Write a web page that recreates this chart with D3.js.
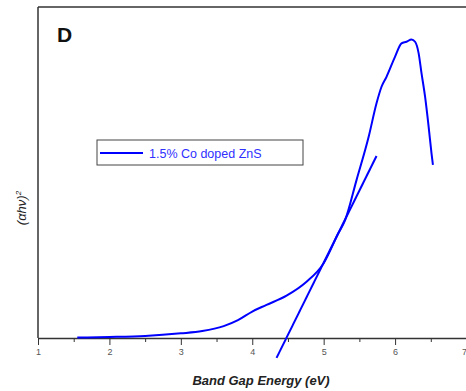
<!DOCTYPE html>
<html>
<head>
<meta charset="utf-8">
<script src="https://cdn.jsdelivr.net/npm/d3@7"></script>
<style>
  body { margin: 0; background: #fff; }
  svg { display: block; font-family: "Liberation Sans", Arial, sans-serif; }
  .axis path, .axis line { stroke: #333; }
  .axis text { fill: #555; font-size: 9px; }
</style>
</head>
<body>
<div class="demo"></div>
<script>
const w = 466, h = 391;

// measured curve: photon energy (eV) vs (alpha h nu)^2 (arb. units)
const energy = [1.55, 2.0, 2.5, 3.0, 3.3, 3.6, 3.8, 4.0, 4.2, 4.48, 4.76, 5.0, 5.2, 5.3, 5.46, 5.63, 5.74, 5.81, 5.88, 6.0, 6.09, 6.16, 6.23, 6.28, 6.33, 6.37, 6.42, 6.47, 6.51, 6.53];
const absorb = [0.15, 0.3, 0.6, 1.4, 2.1, 3.6, 5.4, 8.0, 10.0, 12.8, 17.0, 22.6, 31.4, 35.6, 47.7, 60.8, 70.9, 75.9, 78.9, 85.0, 89.0, 89.5, 90.2, 89.5, 86.0, 80.0, 72.9, 63.8, 55.8, 52.3];

// linear fit (tangent) end points
const fitE = [4.34, 5.74];
const fitY = [-6.0, 55.0];

const xTicks = [1, 2, 3, 4, 5, 6, 7];
const xMinor = [1.5, 2.5, 3.5, 4.5, 5.5, 6.5];
const seriesName = '1.5% Co doped ZnS';

let xScale = d3.scaleLinear().domain([1, 7]).range([38, 466.5]);
let yScale = d3.scaleLinear().domain([0, 100]).range([338, 7]);

let svg = d3.select('.demo').append('svg').attr('width', w).attr('height', h);

// frame: top + left
svg.append('line')
   .attr('x1', 38).attr('x2', w).attr('y1', 7).attr('y2', 7)
   .attr('stroke', '#333').attr('stroke-width', 1.5);
svg.append('line')
   .attr('x1', 38).attr('x2', 38).attr('y1', 7).attr('y2', 338)
   .attr('stroke', '#333').attr('stroke-width', 1.5);

let xAxis = d3.axisBottom(xScale).tickValues(xTicks).tickSize(7).tickPadding(4).tickSizeOuter(0)
    .tickFormat(d3.format('d'));
let xAxisMinor = d3.axisBottom(xScale).tickValues(xMinor).tickSize(4).tickFormat('').tickSizeOuter(0);

svg.append('g').attr('class', 'axis')
   .attr('transform', 'translate(0,338)')
   .call(xAxisMinor);
svg.append('g').attr('class', 'axis')
   .attr('transform', 'translate(0,338)')
   .call(xAxis)
   .call(g => g.select('.domain').attr('stroke-width', 1.5))
   .call(g => g.selectAll('.tick text').filter(d => d === 7).attr('text-anchor', 'end'));

let line = d3.line()
    .x(d => xScale(d[0]))
    .y(d => yScale(d[1]));

svg.append('path')
   .datum(energy.map((e, i) => [e, absorb[i]]))
   .attr('d', line.curve(d3.curveMonotoneX))
   .attr('fill', 'none').attr('stroke', '#0000ff').attr('stroke-width', 2);

svg.append('path')
   .datum(fitE.map((e, i) => [e, fitY[i]]))
   .attr('d', line.curve(d3.curveLinear))
   .attr('fill', 'none').attr('stroke', '#0000ff').attr('stroke-width', 2);

// legend
svg.append('rect')
   .attr('x', 97).attr('y', 140).attr('width', 206).attr('height', 25)
   .attr('fill', '#fff').attr('stroke', '#444').attr('stroke-width', 1);
svg.append('line')
   .attr('x1', 100).attr('x2', 143).attr('y1', 153).attr('y2', 153)
   .attr('stroke', '#0000ff').attr('stroke-width', 2);
svg.append('text')
   .attr('x', 149).attr('y', 157.5)
   .attr('font-size', '12.5px').attr('fill', '#3030ff')
   .text(seriesName);

// panel letter
svg.append('text')
   .attr('x', 57).attr('y', 42)
   .attr('font-size', '21px').attr('font-weight', 'bold').attr('fill', '#111')
   .text('D');

// axis titles
svg.append('text')
   .attr('x', 261).attr('y', 385)
   .attr('text-anchor', 'middle')
   .attr('font-size', '13px').attr('font-weight', 'bold').attr('font-style', 'italic').attr('fill', '#222')
   .text('Band Gap Energy (eV)');

let yt = svg.append('text')
   .attr('transform', 'translate(26,208) rotate(-90)')
   .attr('text-anchor', 'middle')
   .attr('font-size', '13px').attr('font-style', 'italic').attr('fill', '#222');
yt.append('tspan').text('(αhν)');
yt.append('tspan').attr('dy', -5).attr('font-size', '8px').text('2');
</script>
</body>
</html>
